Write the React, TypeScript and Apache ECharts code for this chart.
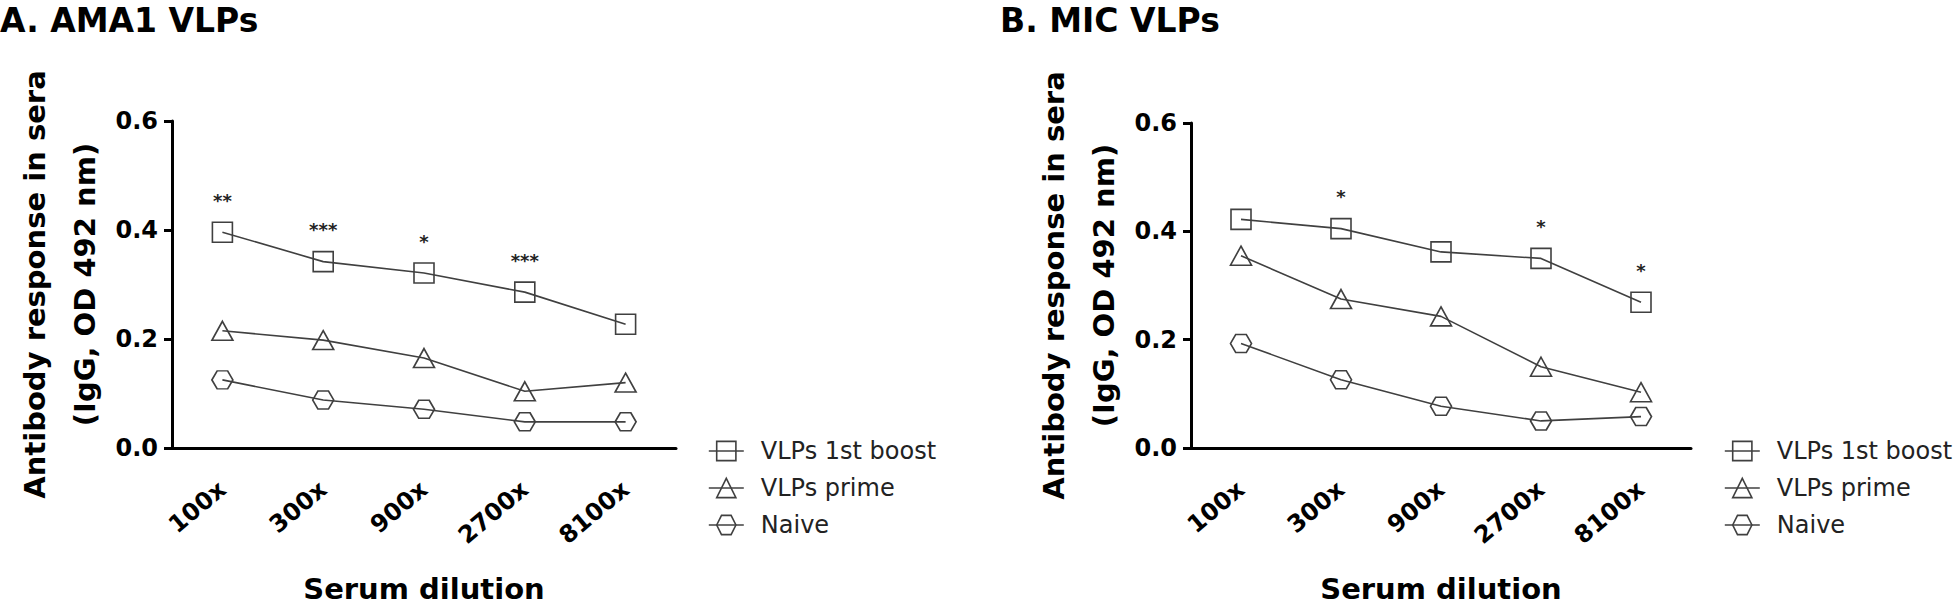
import React, { useEffect, useRef } from "react";
import * as echarts from "echarts";

const categories = ["100x", "300x", "900x", "2700x", "8100x"];
const seriesNames = ["VLPs 1st boost", "VLPs prime", "Naive"];

const amaBoost = [0.396, 0.342, 0.321, 0.286, 0.227];
const amaPrime = [0.215, 0.198, 0.165, 0.104, 0.12];
const amaNaive = [0.125, 0.088, 0.071, 0.048, 0.048];
const amaSig = ["**", "***", "*", "***", ""];

const micBoost = [0.422, 0.405, 0.362, 0.35, 0.269];
const micPrime = [0.355, 0.275, 0.243, 0.15, 0.103];
const micNaive = [0.193, 0.126, 0.077, 0.05, 0.058];
const micSig = ["", "*", "", "*", "*"];

const yTicks = [0, 0.2, 0.4, 0.6];

const FONT = "DejaVu Sans";
const INK = "#404040";
const HEX = "path://M0,50 L25,7 L75,7 L100,50 L75,93 L25,93 Z";

const symbols = ["rect", "triangle", HEX];
const symbolSizes: any[] = [[20, 20], [21, 19], [21, 18]];

function makeSeries(values: number[][], sig: string[], idx: number) {
  return values.map((vals, i) => ({
    type: "line",
    name: seriesNames[i],
    xAxisIndex: idx,
    yAxisIndex: idx,
    data: vals,
    symbol: symbols[i],
    symbolSize: symbolSizes[i],
    showAllSymbol: true,
    lineStyle: { color: INK, width: 1.6 },
    itemStyle: { color: "rgba(0,0,0,0)", borderColor: INK, borderWidth: 1.6 },
    emphasis: { disabled: true },
    label:
      i === 0
        ? {
            show: true,
            position: "top",
            distance: 12,
            fontFamily: FONT,
            fontWeight: "bold",
            fontSize: 18,
            color: "#222",
            formatter: (p: any) => sig[p.dataIndex],
          }
        : { show: false },
    z: 3 - i,
  }));
}

function xAxisOpt(idx: number) {
  return {
    type: "category",
    gridIndex: idx,
    data: categories,
    boundaryGap: true,
    name: "Serum dilution",
    nameLocation: "middle",
    nameGap: 126,
    nameTextStyle: { fontFamily: FONT, fontWeight: "bold", fontSize: 29, color: "#000" },
    axisLine: { lineStyle: { color: "#000", width: 3 } },
    axisTick: { alignWithLabel: true, length: 10, lineStyle: { color: "#000", width: 3 } },
    axisLabel: {
      rotate: 40,
      margin: 38,
      interval: 0,
      fontFamily: FONT,
      fontWeight: "bold",
      fontSize: 24,
      color: "#000",
    },
    splitLine: { show: false },
  };
}

function yAxisOpt(idx: number) {
  return {
    type: "value",
    gridIndex: idx,
    min: yTicks[0],
    max: yTicks[yTicks.length - 1],
    interval: 0.2,
    name: "Antibody response in sera\n(IgG, OD 492 nm)",
    nameLocation: "middle",
    nameRotate: 90,
    nameGap: 62,
    nameTextStyle: {
      fontFamily: FONT,
      fontWeight: "bold",
      fontSize: 29,
      lineHeight: 50,
      color: "#000",
    },
    axisLine: { show: true, lineStyle: { color: "#000", width: 3 } },
    axisTick: { show: true, length: 8, lineStyle: { color: "#000", width: 3 } },
    axisLabel: {
      margin: 14,
      fontFamily: FONT,
      fontWeight: "bold",
      fontSize: 24,
      color: "#000",
      formatter: (v: number) => v.toFixed(1),
    },
    splitLine: { show: false },
  };
}

function legendOpt(left: number) {
  return {
    orient: "vertical",
    left,
    top: 439,
    padding: 0,
    itemWidth: 35,
    itemHeight: 24,
    itemGap: 13,
    selectedMode: false,
    data: seriesNames,
    textStyle: { fontFamily: FONT, fontSize: 24, color: "#222", padding: [0, 0, 0, 12] },
    lineStyle: { color: INK, width: 1.6 },
    itemStyle: { color: "rgba(0,0,0,0)", borderColor: INK, borderWidth: 1.6 },
  };
}

export default function App() {
  const ref = useRef<HTMLDivElement>(null);
  useEffect(() => {
    document.body.style.margin = "0";
    const chart = echarts.init(ref.current!, null, { renderer: "svg" });
    chart.setOption({
      animation: false,
      backgroundColor: "#fff",
      title: [
        {
          text: "A. AMA1 VLPs",
          left: 0,
          top: 4,
          padding: 0,
          textStyle: { fontFamily: FONT, fontWeight: "bold", fontSize: 33, color: "#000" },
        },
        {
          text: "B. MIC VLPs",
          left: 1000,
          top: 4,
          padding: 0,
          textStyle: { fontFamily: FONT, fontWeight: "bold", fontSize: 33, color: "#000" },
        },
      ],
      legend: [legendOpt(708), legendOpt(1724)],
      grid: [
        { left: 172, top: 121, width: 504, height: 331 },
        { left: 1191, top: 123, width: 500, height: 330 },
      ],
      xAxis: [xAxisOpt(0), xAxisOpt(1)],
      yAxis: [yAxisOpt(0), yAxisOpt(1)],
      series: [
        ...makeSeries([amaBoost, amaPrime, amaNaive], amaSig, 0),
        ...makeSeries([micBoost, micPrime, micNaive], micSig, 1),
      ],
    });
    return () => chart.dispose();
  }, []);
  return (
    <div
      ref={ref}
      style={{ position: "absolute", left: 0, top: 0, width: 1960, height: 608 }}
    />
  );
}
